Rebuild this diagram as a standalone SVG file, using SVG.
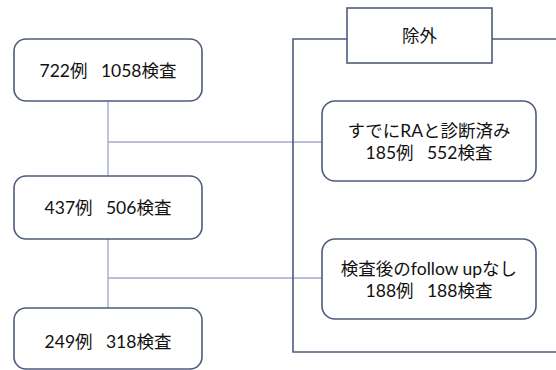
<svg xmlns="http://www.w3.org/2000/svg" width="556" height="370" viewBox="0 0 556 370">
<style>
.box{fill:#ffffff;stroke:#4f5b7c;stroke-width:1.6}
.conn{fill:none;stroke:#a3abcf;stroke-width:1.4}
.frame{fill:none;stroke:#4f5b7c;stroke-width:1.6}
text{font-family:"Lato","Noto Sans CJK JP",sans-serif;font-size:17.5px;fill:#111111;text-anchor:middle;white-space:pre}
</style>
<rect width="556" height="370" fill="#ffffff"/>
<g id="connectors">
<path class="conn" d="M108 101 V313"/>
<path class="conn" d="M108 142 H322"/>
<path class="conn" d="M108 278 H322"/>
<path class="frame" d="M347 39 H293 V352 H556"/>
<path class="frame" d="M492 39 H556"/>
</g>
<g id="n1">
<rect class="box" x="14" y="39" width="188" height="62" rx="12"/>
<text x="108" y="77" xml:space="preserve">722例   1058検査</text>
</g>
<g id="n2">
<rect class="box" x="14" y="176" width="188" height="63" rx="12"/>
<text x="108" y="214" xml:space="preserve">437例   506検査</text>
</g>
<g id="n3">
<rect class="box" x="14" y="308" width="188" height="61" rx="12"/>
<text x="108" y="348" xml:space="preserve">249例   318検査</text>
</g>
<g id="exclude">
<rect class="box" x="347" y="8" width="145" height="55"/>
<text x="419.5" y="42">除外</text>
</g>
<g id="n4">
<rect class="box" x="322" y="101" width="214" height="80" rx="13"/>
<text x="429" y="137">すでにRAと診断済み</text>
<text x="429" y="159" xml:space="preserve">185例   552検査</text>
</g>
<g id="n5">
<rect class="box" x="322" y="239" width="214" height="80" rx="13"/>
<text x="429" y="275">検査後のfollow upなし</text>
<text x="429" y="297" xml:space="preserve">188例   188検査</text>
</g>
</svg>
